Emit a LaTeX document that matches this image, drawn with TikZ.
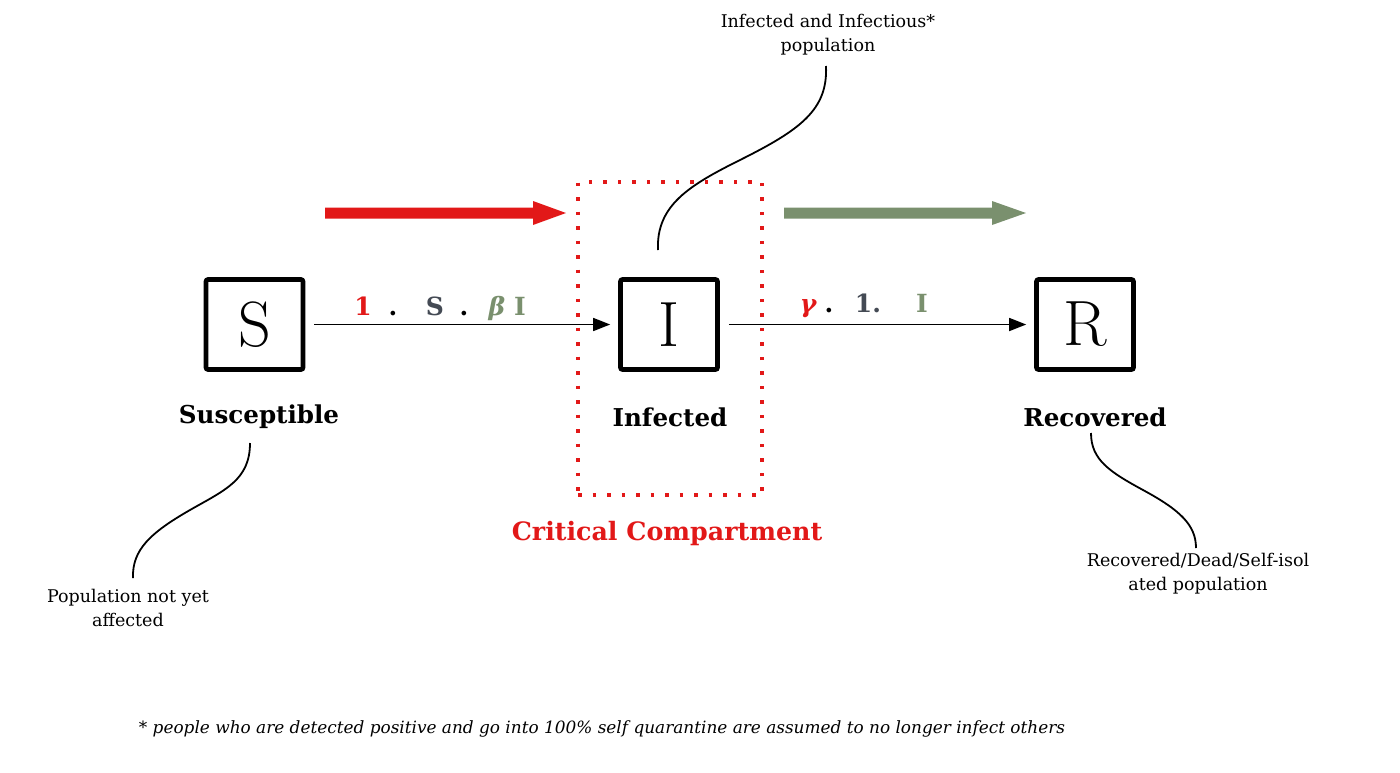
\documentclass[tikz,border=0pt]{standalone}
\usepackage{fontspec}
\newfontfamily\lora{DejaVu Serif}
\usetikzlibrary{arrows.meta}
\definecolor{cred}{RGB}{226,24,24}
\definecolor{cgreen}{RGB}{122,144,110}
\definecolor{cgray}{RGB}{68,74,84}
\begin{document}
\begin{tikzpicture}[x=1pt,y=-1pt,
  box/.style={draw, line width=4.6pt, rounded corners=2pt, minimum width=97pt, minimum height=90pt, inner sep=0pt, font=\fontsize{64}{64}\selectfont},
  lab/.style={font=\lora\bfseries\fontsize{24.6}{28}\selectfont, inner sep=0pt},
  note/.style={font=\lora\fontsize{17.5}{24}\selectfont, align=center, inner sep=0pt},
  flow/.style={line width=1.5pt, -{Triangle[length=17pt,width=13pt]}},
  callout/.style={line width=1.8pt},
  fml/.style={font=\lora\bfseries\fontsize{25}{25}\selectfont, inner sep=0pt, anchor=base},
  crit/.style={draw=cred, line width=3.5pt, dash pattern=on 3.5pt off 11pt, minimum width=184pt, minimum height=313pt, inner sep=0pt}
]
\useasboundingbox (0,0) rectangle (1400,772);

% critical compartment
\node[crit] (crit) at (670,338.5) {};
\node[lab, text=cred, font=\lora\bfseries\fontsize{25.3}{28}\selectfont] (critlab) at (667,534) {Critical Compartment};

% big arrows
\fill[cred] (325,207.5) -- (533,207.5) -- (533,201) -- (566,213) -- (533,225) -- (533,218.5) -- (325,218.5) -- cycle;
\fill[cgreen] (784,207.5) -- (992,207.5) -- (992,201) -- (1026,213) -- (992,225) -- (992,218.5) -- (784,218.5) -- cycle;

% compartments
\node[box] (S) at (254.5,324.5) {S};
\node[box] (I) at (669,324.5) {I};
\node[box] (R) at (1085,324.5) {R};

\node[lab] (Slab) at (259,417) {Susceptible};
\node[lab] (Ilab) at (670,417) {Infected};
\node[lab] (Rlab) at (1095,417) {Recovered};

% flows
\draw[flow, shorten <=9pt, shorten >=8pt] (S) -- (I);
\draw[flow, shorten <=9pt, shorten >=8pt] (I) -- (R);

% formula 1
\node[fml, text=cred] (a1) at (363,315) {1};
\node[fml] (a2) at (393,315) {.};
\node[fml, text=cgray] (a3) at (435,315) {S};
\node[fml] (a4) at (464,315) {.};
\node[fml, text=cgreen] (a5) at (497,315) {\itshape β};
\node[fml, text=cgreen] (a6) at (520,315) {I};

% formula 2
\node[fml, text=cred] (b1) at (808,312) {\itshape γ};
\node[fml] (b2) at (829,312) {.};
\node[fml, text=cgray] (b3) at (868,312) {1.};
\node[fml, text=cgreen] (b4) at (922,312) {I};

% notes
\node[note] (nI) at (828,35) {Infected and Infectious*\\population};
\node[note] (nS) at (128,608) {Population not yet\\affected};
\node[note] (nR) at (1198,574) {Recovered/Dead/Self-isol\\ated population};

\coordinate (cI1) at (658,250);
\coordinate (cI2) at (826,66);
\coordinate (cS1) at (250,443);
\coordinate (cS2) at (133,578);
\coordinate (cR1) at (1091,433);
\coordinate (cR2) at (1196,548);

\draw[callout] (cI1) .. controls (656,205) and (690,185) .. (740,160) .. controls (800,130) and (828,110) .. (cI2);
\draw[callout] (cS1) .. controls (250,480) and (225,490) .. (190,510) .. controls (150,533) and (132,550) .. (cS2);
\draw[callout] (cR1) .. controls (1091,460) and (1110,472) .. (1143,490) .. controls (1180,510) and (1196,525) .. (cR2);

% footnote
\node[font=\lora\itshape\fontsize{16.9}{17}\selectfont, inner sep=0pt] (foot) at (602,729) {* people who are detected positive and go into 100\% self quarantine are assumed to no longer infect others};
\end{tikzpicture}
\end{document}
